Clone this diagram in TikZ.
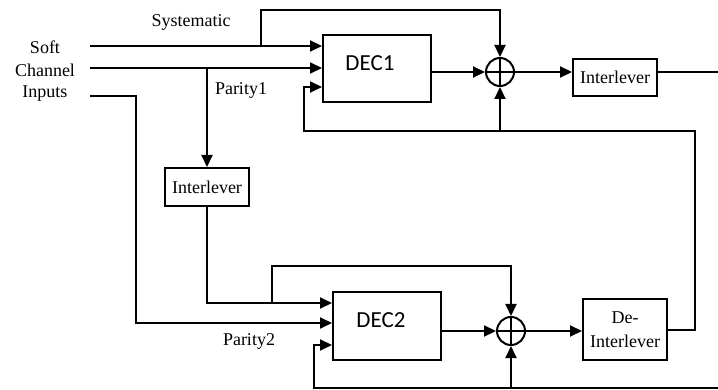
\documentclass[tikz,border=0pt]{standalone}
\usepackage{fontspec}
\setmainfont{Liberation Serif}
\newfontfamily\labfont{Liberation Serif}
\newfontfamily\decfont{Carlito}
\usetikzlibrary{arrows.meta}
\begin{document}
\begin{tikzpicture}[x=1pt,y=-1pt, line width=2pt,
  txt/.style={font=\labfont\fontsize{18}{21}\selectfont, inner sep=0},
  blk/.style={draw, line width=2pt, inner sep=0, font=\labfont\fontsize{18}{24}\selectfont},
  dec/.style={draw, line width=2pt, inner sep=0, minimum width=108pt, minimum height=67pt},
  dectxt/.style={font=\decfont\fontsize{23}{26}\selectfont, inner sep=0},
  sumc/.style={draw, circle, line width=2pt, minimum size=28pt, inner sep=0},
  arr/.style={-{Triangle[length=12pt,width=11pt]}}]
\useasboundingbox (0,0) rectangle (718,390);

% blocks
\node[dec] (dec1) at (377,68.5) {};
\node[dectxt] (dec1t) at (370,63) {DEC1};
\node[sumc] (s1) at (500,72) {};
\draw (s1.north) -- (s1.south) (s1.west) -- (s1.east);
\node[blk, minimum width=84pt, minimum height=37pt] (il1) at (615,77.5) {Interlever};
\node[blk, minimum width=84pt, minimum height=38pt] (il2) at (207,187) {Interlever};
\node[dec, minimum height=68pt] (dec2) at (387,326) {};
\node[dectxt] (dec2t) at (381,320) {DEC2};
\node[sumc] (s2) at (511,331) {};
\draw (s2.north) -- (s2.south) (s2.west) -- (s2.east);
\node[blk, minimum width=84pt, minimum height=60pt, align=center] (dil) at (625,329.5) {De-\\Interlever};

% labels
\node[txt] (sys) at (191,22) {Systematic};
\node[txt] (soft) at (45,47) {Soft};
\node[txt] (chan) at (45,70) {Channel};
\node[txt] (inp) at (45,94) {Inputs};
\node[txt] (par1) at (241,90) {Parity1};
\node[txt] (par2) at (249,341) {Parity2};

% inputs
\coordinate (a1) at (90,46);
\coordinate (a2) at (90,68);
\coordinate (a3) at (90,96);
\draw[arr] (a1) -- ([yshift=22.5pt]dec1.west);
\draw[arr] (a2) -- ([yshift=0.5pt]dec1.west);
\draw[arr] (a3) -- (136,96) |- ([yshift=3pt]dec2.west);

% systematic branch
\coordinate (sysb) at (261,46);
\draw[arr] (sysb) -- (261,10) -| (s1.north);

% parity1 branch
\coordinate (p1) at (207,68);
\draw[arr] (p1) -- (il2.north);
\draw[arr] (il2.south) |- ([yshift=23pt]dec2.west);
\coordinate (b2) at (272,303);
\draw[arr] (b2) -- (272,266) -| (s2.north);

% DEC1 path
\draw[arr] (dec1.east |- s1.west) -- (s1.west);
\draw[arr] (s1.east) -- (il1.west |- s1.east);
\coordinate (out1) at (718,72);
\draw (il1.east |- s1.east) -- (out1);

% DEC2 path
\draw[arr] (dec2.east |- s2.west) -- (s2.west);
\draw[arr] (s2.east) -- (dil.west |- s2.east);

% feedback from de-interleaver
\draw[arr] (dil.east) -- (695,329.5) -- (695,131) -| (304,87) -- ([yshift=-18.5pt]dec1.west);
\draw[arr] (500,131) -- (s1.south);

% bottom feedback
\coordinate (out2) at (718,388);
\draw[arr] (out2) -| (314,345) -- ([yshift=-19pt]dec2.west);
\draw[arr] (511,388) -- (s2.south);
\end{tikzpicture}
\end{document}
